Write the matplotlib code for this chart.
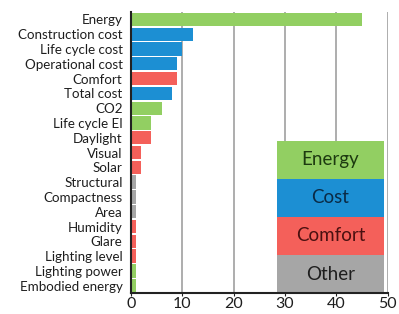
import matplotlib
matplotlib.use("Agg")
import matplotlib.pyplot as plt
from matplotlib.patches import Rectangle

categories = ["Energy", "Construction cost", "Life cycle cost", "Operational cost",
              "Comfort", "Total cost", "CO2", "Life cycle EI", "Daylight", "Visual",
              "Solar", "Structural", "Compactness", "Area", "Humidity", "Glare",
              "Lighting level", "Lighting power", "Embodied energy"]
values = [45, 12, 10, 9, 9, 8, 6, 4, 4, 2, 2, 1, 1, 1, 1, 1, 1, 1, 1]
groups = ["Energy", "Cost", "Cost", "Cost", "Comfort", "Cost", "Energy", "Energy",
          "Comfort", "Comfort", "Comfort", "Other", "Other", "Other", "Comfort",
          "Comfort", "Comfort", "Energy", "Energy"]
legend_labels = ["Energy", "Cost", "Comfort", "Other"]
colors = {"Energy": "#92cf62", "Cost": "#1c8fd3", "Comfort": "#f4605a", "Other": "#a6a6a6"}
text_colors = {"Energy": "#1d3a10", "Cost": "#0a2a45", "Comfort": "#4a1010", "Other": "#1e1e1e"}
xticks = [0, 10, 20, 30, 40, 50]

plt.rcParams['font.family'] = ['Lato', 'DejaVu Sans']

fig = plt.figure(figsize=(3.99, 3.14), dpi=100)
ax = fig.add_axes([0.328, 0.0666, 0.644, 0.895])

ypos = list(range(len(categories)))[::-1]
ax.barh(ypos, values, height=0.9, color=[colors[g] for g in groups], zorder=3)
ax.set_ylim(-0.5, len(categories) - 0.5)
ax.set_xlim(0, 50)
ax.set_yticks(ypos)
ax.set_yticklabels(categories, fontsize=9.6, color="#1e1e1e")
ax.set_xticks(xticks)
ax.set_xticklabels([str(t) for t in xticks], fontsize=11.5, color="#1e1e1e")
ax.tick_params(axis='y', length=0, pad=6)
ax.tick_params(axis='x', length=2, pad=0.5, color="#222222")
ax.grid(axis='x', color="#a0a0a0", linewidth=1.2, zorder=0)
for s in ["top", "right"]:
    ax.spines[s].set_visible(False)
ax.spines["left"].set_color("#222222")
ax.spines["left"].set_linewidth(1.5)
ax.spines["bottom"].set_color("#222222")
ax.spines["bottom"].set_linewidth(1.5)
ax.spines["left"].set_zorder(5)
ax.spines["bottom"].set_zorder(5)

# legend block
lx0, lx1 = 0.567, 0.986
ly0 = 0.0
bh = 0.1357
for i, lab in enumerate(legend_labels[::-1]):
    y = ly0 + i * bh
    ax.add_patch(Rectangle((lx0, y), lx1 - lx0, bh, transform=ax.transAxes,
                           facecolor=colors[lab], edgecolor="none", zorder=4, clip_on=False))
    ax.text((lx0 + lx1) / 2, y + bh / 2, lab, transform=ax.transAxes, ha='center',
            va='center', fontsize=13.5, color=text_colors[lab], zorder=6)

fig.savefig("out.png", dpi=100)
